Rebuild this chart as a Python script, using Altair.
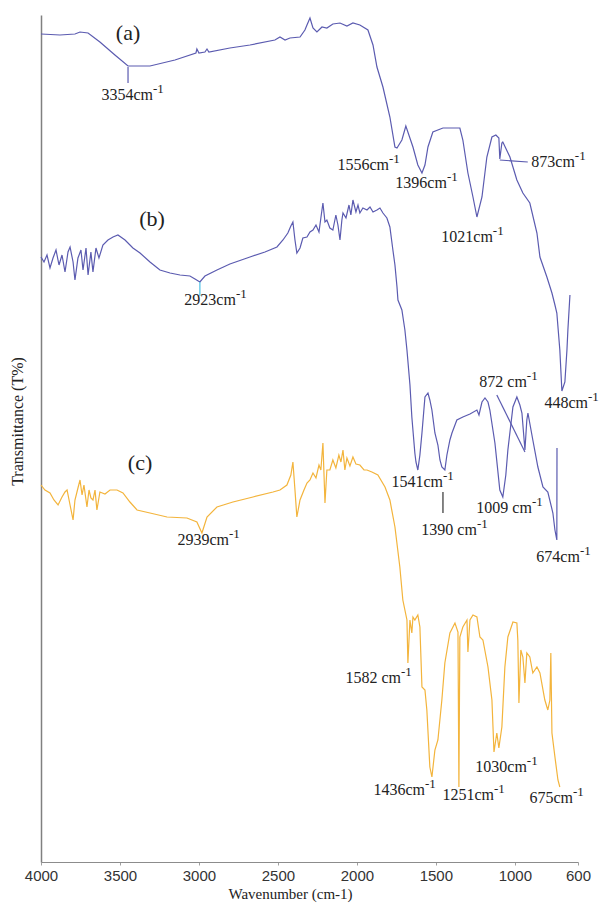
import altair as alt
import pandas as pd

# ---------------- data ----------------
tick_values = [4000, 3500, 3000, 2500, 2000, 1500, 1000, 600]

# spectrum (a)
a_wn = [4000, 3880, 3785, 3753, 3702, 3627, 3532, 3449, 3373, 3310, 3152, 3019, 3013, 3000, 2962,
        2949, 2937, 2804, 2677, 2519, 2487, 2455, 2424, 2360, 2329, 2316, 2297, 2278, 2253, 2221,
        2190, 2152, 2107, 2063, 2025, 1981, 1930, 1898, 1873, 1835, 1791, 1759, 1746, 1715, 1690,
        1645, 1614, 1588, 1569, 1550, 1519, 1455, 1348, 1329, 1297, 1265, 1240, 1208, 1177, 1145,
        1120, 1101, 1095, 1082, 1076, 1031, 987, 949, 905, 860, 841, 797, 765, 746, 734,
        715, 702, 683, 670, 664, 651]
a_t = [82.8, 82.7, 82.8, 83.0, 82.9, 82.0, 80.7, 79.6, 79.6, 79.6, 80.2, 80.9, 81.3, 80.9, 81.0,
       81.3, 81.0, 81.4, 81.7, 82.2, 82.5, 82.2, 82.4, 82.5, 83.2, 83.7, 84.4, 83.4, 83.0, 83.5,
       83.4, 83.8, 83.9, 83.6, 83.9, 83.7, 83.2, 81.7, 79.5, 77.5, 74.5, 71.5, 71.4, 72.2, 73.6,
       71.5, 69.7, 68.9, 69.7, 71.5, 73.0, 73.4, 73.4, 72.2, 68.9, 66.5, 64.5, 66.5, 70.5, 72.5,
       72.7, 72.4, 70.3, 71.9, 72.0, 70.5, 68.2, 66.9, 65.9, 62.9, 60.5, 58.5, 56.9, 55.7, 54.9,
       51.2, 47.1, 48.0, 51.2, 53.2, 56.7]

# spectrum (b)
b_wn = [4000, 3981, 3962, 3943, 3924, 3905, 3886, 3867, 3848, 3829, 3816, 3797, 3785, 3766, 3747,
        3734, 3715, 3702, 3684, 3671, 3652, 3633, 3608, 3576, 3544, 3513, 3468, 3418, 3373, 3310,
        3247, 3183, 3120, 3057, 3025, 2994, 2962, 2886, 2804, 2677, 2582, 2506, 2468, 2437, 2418,
        2405, 2392, 2380, 2360, 2342, 2316, 2297, 2278, 2259, 2240, 2228, 2215, 2202, 2190, 2171,
        2152, 2133, 2120, 2107, 2095, 2088, 2069, 2050, 2038, 2025, 2006, 1993, 1981, 1962, 1936,
        1917, 1898, 1873, 1854, 1835, 1810, 1791, 1772, 1759, 1746, 1740, 1715, 1696, 1683, 1664,
        1652, 1633, 1626, 1614, 1601, 1588, 1569, 1550, 1538, 1525, 1506, 1487, 1474, 1462, 1443,
        1430, 1411, 1398, 1379, 1367, 1329, 1284, 1240, 1227, 1208, 1189, 1170, 1158, 1126, 1095,
        1076, 1057, 1044, 1012, 987, 968, 955, 936, 924, 917, 886, 854, 822, 791, 759,
        746, 734, 733]
b_t = [60.5, 60.0, 60.7, 59.4, 60.4, 61.2, 59.7, 60.7, 59.0, 61.0, 61.5, 60.0, 58.2, 60.4, 61.2,
       59.2, 61.4, 58.7, 61.0, 59.0, 61.4, 60.4, 61.7, 62.2, 62.5, 62.7, 62.2, 61.4, 60.9, 60.0,
       59.2, 58.9, 58.7, 58.6, 58.3, 58.0, 58.6, 59.2, 59.8, 60.5, 61.0, 61.5, 62.2, 62.9, 63.6,
       64.0, 62.2, 60.9, 61.4, 62.4, 62.5, 63.0, 63.2, 63.7, 63.0, 64.4, 65.9, 64.0, 64.2, 63.4,
       63.2, 64.7, 63.7, 62.2, 64.2, 64.9, 64.4, 65.7, 64.7, 66.2, 65.0, 65.7, 64.9, 65.4, 65.2,
       65.5, 65.0, 65.2, 65.4, 64.9, 64.4, 63.5, 61.2, 59.7, 57.5, 56.2, 55.2, 53.2, 51.2, 47.7,
       44.5, 40.9, 40.0, 39.2, 40.7, 42.9, 46.5, 46.9, 46.2, 45.2, 42.9, 41.7, 40.2, 39.5, 39.2,
       40.7, 42.2, 42.9, 43.7, 44.2, 44.5, 44.8, 45.2, 44.7, 46.0, 46.4, 46.0, 45.2, 41.9, 37.2,
       36.5, 38.7, 41.2, 45.5, 46.5, 45.7, 44.9, 41.2, 44.2, 44.9, 42.2, 39.5, 37.5, 37.0, 34.9,
       33.2, 32.2, 41.4]

# spectrum (c)
c_wn = [4000, 3975, 3943, 3918, 3892, 3867, 3848, 3835, 3816, 3797, 3785, 3766, 3753, 3740, 3728,
        3709, 3696, 3684, 3671, 3658, 3646, 3627, 3595, 3563, 3519, 3481, 3437, 3392, 3310, 3202,
        3076, 3013, 2981, 2949, 2886, 2785, 2658, 2531, 2487, 2443, 2418, 2405, 2392, 2380, 2360,
        2335, 2316, 2297, 2278, 2259, 2240, 2228, 2215, 2202, 2190, 2171, 2152, 2133, 2114, 2101,
        2088, 2076, 2063, 2044, 2025, 2006, 1981, 1955, 1936, 1905, 1867, 1822, 1791, 1759, 1728,
        1709, 1683, 1677, 1664, 1652, 1645, 1633, 1614, 1601, 1588, 1569, 1557, 1538, 1525, 1506,
        1487, 1462, 1443, 1411, 1379, 1360, 1354, 1348, 1329, 1303, 1297, 1284, 1265, 1240, 1221,
        1202, 1170, 1145, 1132, 1114, 1101, 1082, 1063, 1044, 1012, 987, 981, 974, 962, 949,
        936, 924, 905, 886, 860, 841, 810, 791, 778, 772, 765, 746, 727, 715]
c_t = [37.7, 37.2, 36.9, 36.2, 35.7, 36.5, 37.0, 37.2, 35.7, 34.2, 36.2, 37.4, 38.2, 36.7, 37.7,
       35.5, 37.2, 36.4, 36.2, 37.2, 35.2, 37.0, 36.8, 37.2, 37.2, 36.9, 36.0, 35.2, 34.9, 34.5,
       34.4, 34.0, 32.9, 34.5, 35.5, 36.0, 36.5, 37.0, 37.2, 37.7, 38.7, 40.0, 37.2, 34.5, 36.2,
       37.2, 37.9, 38.2, 38.9, 38.4, 39.7, 39.2, 41.9, 35.9, 39.2, 39.2, 40.2, 39.4, 40.7, 40.0,
       41.2, 39.2, 40.4, 39.6, 40.5, 39.8, 39.7, 39.2, 39.2, 39.0, 38.7, 37.5, 36.2, 33.5, 29.5,
       26.2, 24.2, 19.9, 24.2, 22.9, 24.5, 24.2, 24.7, 23.5, 17.5, 17.2, 15.2, 9.5, 8.5, 11.2,
       12.2, 16.2, 19.9, 22.9, 23.9, 23.0, 7.5, 22.5, 23.5, 24.2, 21.0, 24.2, 24.7, 24.5, 22.5,
       22.2, 19.5, 16.2, 11.0, 12.9, 11.4, 13.5, 19.5, 22.5, 24.0, 23.9, 22.2, 15.9, 21.2, 20.5,
       17.9, 20.9, 20.5, 18.9, 19.5, 18.9, 16.2, 15.2, 16.2, 20.9, 12.9, 10.5, 8.2, 7.5]

# peak labels: text before the superscript, position where the superscript starts
peak_base = ["3354cm", "1556cm", "1396cm", "1021cm", "873cm", "2923cm", "448cm", "872 cm",
             "1541cm", "1390 cm", "1009 cm", "674cm", "2939cm", "1582 cm", "1436cm", "1251cm",
             "1030cm", "675cm"]
peak_sup = ["-1"] * len(peak_base)
peak_wn = [3291, 1797, 1430, 1139, 620, 2766, 537, 924, 1455, 1240, 892, 588, 2810, 1721,
           1569, 1132, 924, 632]
peak_t = [76.7, 69.7, 67.9, 62.5, 70.0, 56.2, 45.9, 48.0, 38.0, 33.2, 35.4, 30.5, 32.2, 18.4,
          7.2, 6.7, 9.5, 6.4]

# leader lines for the peak labels
lead_wn = [3449, 1095, 2994, 1114, 1455]
lead_wn2 = [3449, 918, 2994, 936, 1455]
lead_t = [79.5, 70.2, 58.0, 46.7, 37.0]
lead_t2 = [77.9, 70.0, 56.6, 41.0, 34.9]
lead_color = ["#5b5bb0", "#5b5bb0", "#4cc2e6", "#5b5bb0", "#333333"]

# panel labels
panel_text = ["(a)", "(b)", "(c)"]
panel_wn = [3449, 3297, 3373]
panel_t = [82.9, 64.3, 39.9]

# ---------------- chart ----------------
BLUE = "#5b5bb0"
ORANGE = "#f3b43c"
SERIF = "Liberation Serif"

frames = []
for name, wn, t in [("a", a_wn, a_t), ("b", b_wn, b_t), ("c", c_wn, c_t)]:
    df = pd.DataFrame({"wn": wn, "t": t})
    df["series"] = name
    df["idx"] = range(len(df))
    frames.append(df)
spec = pd.concat(frames, ignore_index=True)

peaks = pd.DataFrame({"wn": peak_wn, "t": peak_t, "base": peak_base, "sup": peak_sup})
leads = pd.DataFrame({"wn": lead_wn, "wn2": lead_wn2, "t": lead_t, "t2": lead_t2, "c": lead_color})
panels = pd.DataFrame({"wn": panel_wn, "t": panel_t, "label": panel_text})

x_scale = alt.Scale(domain=[600, 4000], reverse=True, nice=False, zero=False)
y_scale = alt.Scale(domain=[0, 84.7], nice=False, zero=False)

x_axis = alt.Axis(
    values=tick_values, format="d", title="Wavenumber (cm-1)", grid=False, labelFlush=False,
    domainColor="#8c8c8c", tickColor="#a0a0a0", tickSize=3,
    labelFont="Liberation Sans", labelFontSize=15, labelColor="#333333", labelPadding=3,
    titleFont=SERIF, titleFontSize=15, titleFontWeight="normal", titleColor="#222222",
    titleX=249, titleY=24,
)
y_axis = alt.Axis(
    title="Transmittance (T%)", labels=False, ticks=False, grid=False,
    domainColor="#808080", domainWidth=1.5,
    titleFont=SERIF, titleFontSize=16, titleFontWeight="normal", titleColor="#222222",
    titleX=-16, titleY=406,
)

lines = alt.Chart(spec).mark_line(strokeWidth=1.2).encode(
    x=alt.X("wn:Q", scale=x_scale, axis=x_axis),
    y=alt.Y("t:Q", scale=y_scale, axis=y_axis),
    color=alt.Color("series:N", scale=alt.Scale(domain=["a", "b", "c"], range=[BLUE, BLUE, ORANGE]), legend=None),
    order="idx:Q",
)

rules = alt.Chart(leads).mark_rule(strokeWidth=1.2).encode(
    x=alt.X("wn:Q", scale=x_scale),
    x2="wn2:Q",
    y=alt.Y("t:Q", scale=y_scale),
    y2="t2:Q",
    color=alt.Color("c:N", scale=None),
)

base_txt = alt.Chart(peaks).mark_text(
    align="right", baseline="middle", font=SERIF, fontSize=16, color="#222222"
).encode(x=alt.X("wn:Q", scale=x_scale), y=alt.Y("t:Q", scale=y_scale), text="base:N")

sup_txt = alt.Chart(peaks).mark_text(
    align="left", baseline="middle", font=SERIF, fontSize=13, color="#222222", dy=-6
).encode(x=alt.X("wn:Q", scale=x_scale), y=alt.Y("t:Q", scale=y_scale), text="sup:N")

panel_txt = alt.Chart(panels).mark_text(
    align="center", baseline="middle", font=SERIF, fontSize=22, color="#222222"
).encode(x=alt.X("wn:Q", scale=x_scale), y=alt.Y("t:Q", scale=y_scale), text="label:N")

chart = alt.layer(lines, rules, base_txt, sup_txt, panel_txt).properties(
    width=537, height=847,
    padding={"left": 41, "top": 15, "right": 23, "bottom": 44},
    autosize=alt.AutoSizeParams(type="none"),
).configure(background="white").configure_view(stroke=None)

chart.save("out.html", embed_options={"renderer": "svg", "actions": False})
